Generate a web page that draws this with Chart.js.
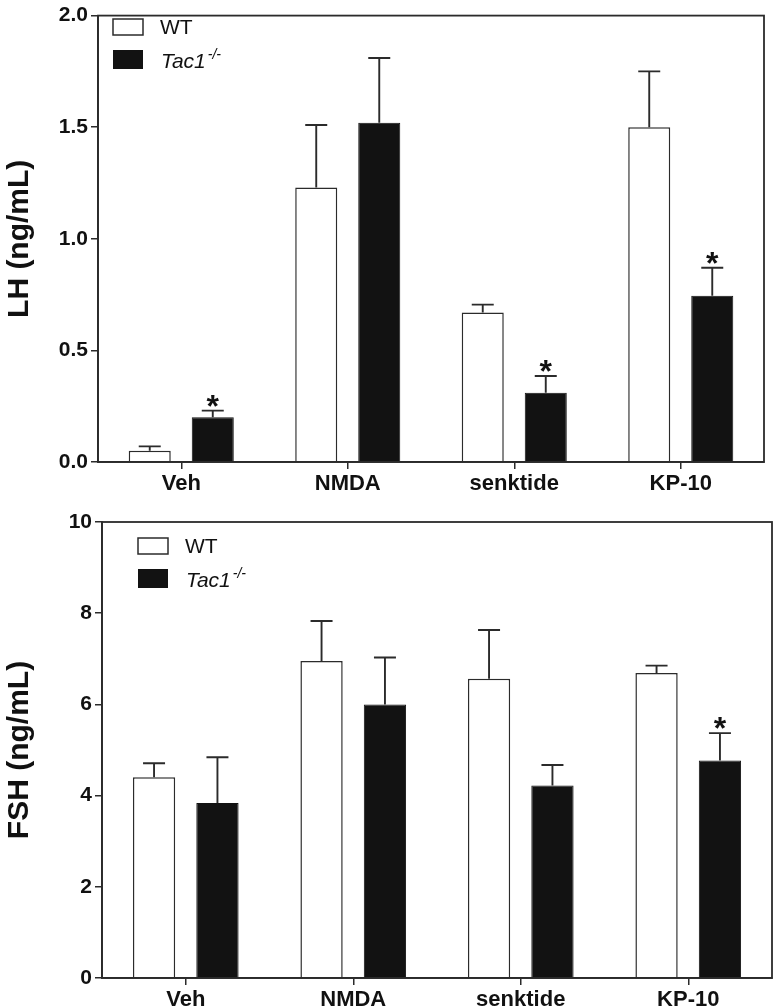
<!DOCTYPE html>
<html>
<head>
<meta charset="utf-8">
<script src="https://cdn.jsdelivr.net/npm/chart.js@4.4.1/dist/chart.umd.min.js"></script>
<style>
  body { margin: 0; background: #fff; }
  .wrap { position: absolute; left: 0; width: 773px; }
  #lhWrap { top: 0; height: 500px; }
  #fshWrap { top: 500px; height: 508px; }
</style>
</head>
<body>
<div class="wrap" id="lhWrap"><canvas id="lh"></canvas></div>
<div class="wrap" id="fshWrap"><canvas id="fsh"></canvas></div>
<script>
// categories and series
const groups = ['Veh', 'NMDA', 'senktide', 'KP-10'];

const lhWT = [0.05, 1.23, 0.67, 1.50];
const lhWTErr = [0.02, 0.28, 0.035, 0.25];
const lhKO = [0.20, 1.52, 0.31, 0.745];
const lhKOErr = [0.03, 0.29, 0.075, 0.125];
const lhKOSig = [true, false, true, true];

const fshWT = [4.40, 6.95, 6.56, 6.69];
const fshWTErr = [0.31, 0.88, 1.07, 0.16];
const fshKO = [3.84, 6.00, 4.22, 4.77];
const fshKOErr = [1.00, 1.03, 0.45, 0.60];
const fshKOSig = [false, false, false, true];

const LINE = '#2b2b2b';
const BLACK = '#121212';

// error bars (upward only) and significance stars
const errorBars = {
    id: 'errorBars',
    afterDatasetsDraw(chart, args, opts) {
        const ctx = chart.ctx;
        const yScale = chart.scales.y;
        chart.data.datasets.forEach((ds, di) => {
            const meta = chart.getDatasetMeta(di);
            meta.data.forEach((bar, i) => {
                const top = yScale.getPixelForValue(ds.data[i] + ds.err[i]);
                ctx.save();
                ctx.strokeStyle = LINE;
                ctx.lineWidth = 1.9;
                ctx.beginPath();
                ctx.moveTo(bar.x, bar.y);
                ctx.lineTo(bar.x, top);
                ctx.moveTo(bar.x - 11, top);
                ctx.lineTo(bar.x + 11, top);
                ctx.stroke();
                if (ds.sig && ds.sig[i]) {
                    ctx.fillStyle = '#111';
                    ctx.font = 'bold 32px "Liberation Sans", Arial, sans-serif';
                    ctx.textAlign = 'center';
                    ctx.textBaseline = 'alphabetic';
                    ctx.fillText('*', bar.x, top + 6);
                }
                ctx.restore();
            });
        });
    }
};

// box around the plot area
const frame = {
    id: 'frame',
    afterDraw(chart) {
        const a = chart.chartArea;
        const ctx = chart.ctx;
        ctx.save();
        ctx.strokeStyle = LINE;
        ctx.lineWidth = 1.8;
        ctx.strokeRect(a.left, a.top, a.right - a.left, a.bottom - a.top);
        ctx.restore();
    }
};

// legend with italic genotype and superscript
const legendBox = {
    id: 'legendBox',
    afterDraw(chart, args, opts) {
        const ctx = chart.ctx;
        const x = opts.x, y = opts.y;
        ctx.save();
        ctx.lineWidth = 1.5;
        ctx.strokeStyle = LINE;
        ctx.fillStyle = '#fff';
        ctx.fillRect(x, y, 30, 16);
        ctx.strokeRect(x, y, 30, 16);
        ctx.fillStyle = BLACK;
        ctx.fillRect(x, y + 31, 30, 19);
        ctx.fillStyle = '#111';
        ctx.textAlign = 'left';
        ctx.textBaseline = 'alphabetic';
        ctx.font = '21px "Liberation Sans", Arial, sans-serif';
        ctx.fillText('WT', x + 47, y + 15);
        ctx.font = 'italic 21px "Liberation Sans", Arial, sans-serif';
        ctx.fillText('Tac1', x + 48, y + 49);
        const w = ctx.measureText('Tac1').width;
        ctx.font = 'italic 14px "Liberation Sans", Arial, sans-serif';
        ctx.fillText('-/-', x + 50 + w, y + 40);
        ctx.restore();
    }
};

const makeChart = (id, wt, wtErr, ko, koErr, koSig, opt) => {
    const ctx = document.getElementById(id).getContext('2d');
    return new Chart(ctx, {
        type: 'bar',
        data: {
            labels: groups,
            datasets: [
                {
                    label: 'WT',
                    data: wt,
                    err: wtErr,
                    backgroundColor: '#fff',
                    borderColor: LINE,
                    borderWidth: 1.5,
                    borderSkipped: 'bottom'
                }, {
                    label: 'Tac1-/-',
                    data: ko,
                    err: koErr,
                    sig: koSig,
                    backgroundColor: BLACK,
                    borderColor: BLACK,
                    borderWidth: 1
                }
            ]
        },
        options: {
            responsive: true,
            maintainAspectRatio: false,
            animation: false,
            datasets: {
                bar: { categoryPercentage: 0.757, barPercentage: 0.667 }
            },
            layout: { padding: opt.padding },
            plugins: {
                legend: { display: false },
                tooltip: { enabled: false },
                legendBox: opt.legend
            },
            scales: {
                x: {
                    grid: {
                        offset: false,
                        drawOnChartArea: false,
                        tickLength: 7,
                        tickColor: LINE,
                        lineWidth: 1.5
                    },
                    border: { color: LINE, width: 1.8 },
                    ticks: {
                        color: '#111',
                        padding: 2,
                        font: { family: '"Liberation Sans", Arial, sans-serif', size: 22, weight: 'bold' }
                    },
                    afterFit: (s) => { s.height = opt.xHeight; }
                },
                y: {
                    min: 0,
                    max: opt.max,
                    ticks: {
                        stepSize: opt.step,
                        color: '#111',
                        padding: 3,
                        font: { family: '"Liberation Sans", Arial, sans-serif', size: 21, weight: 'bold' },
                        callback: opt.fmt
                    },
                    grid: {
                        drawOnChartArea: false,
                        tickLength: 7,
                        tickColor: LINE,
                        lineWidth: 1.5
                    },
                    border: { color: LINE, width: 1.8 },
                    title: {
                        display: true,
                        text: opt.title,
                        color: '#111',
                        padding: { top: 2, bottom: 0 },
                        font: { family: '"Liberation Sans", Arial, sans-serif', size: 30, weight: 'bold' }
                    },
                    afterFit: (s) => { s.width = opt.yWidth; }
                }
            }
        },
        plugins: [errorBars, frame, legendBox]
    });
};

makeChart('lh', lhWT, lhWTErr, lhKO, lhKOErr, lhKOSig, {
    max: 2.0,
    step: 0.5,
    fmt: (v) => v.toFixed(1),
    title: 'LH (ng/mL)',
    padding: { top: 8, right: 9, bottom: 0, left: 0 },
    xHeight: 38,
    yWidth: 98,
    legend: { x: 113, y: 19 }
});

makeChart('fsh', fshWT, fshWTErr, fshKO, fshKOErr, fshKOSig, {
    max: 10,
    step: 2,
    fmt: (v) => String(v),
    title: 'FSH (ng/mL)',
    padding: { top: 22, right: 1, bottom: 0, left: 0 },
    xHeight: 30,
    yWidth: 102,
    legend: { x: 138, y: 38 }
});
</script>
</body>
</html>
